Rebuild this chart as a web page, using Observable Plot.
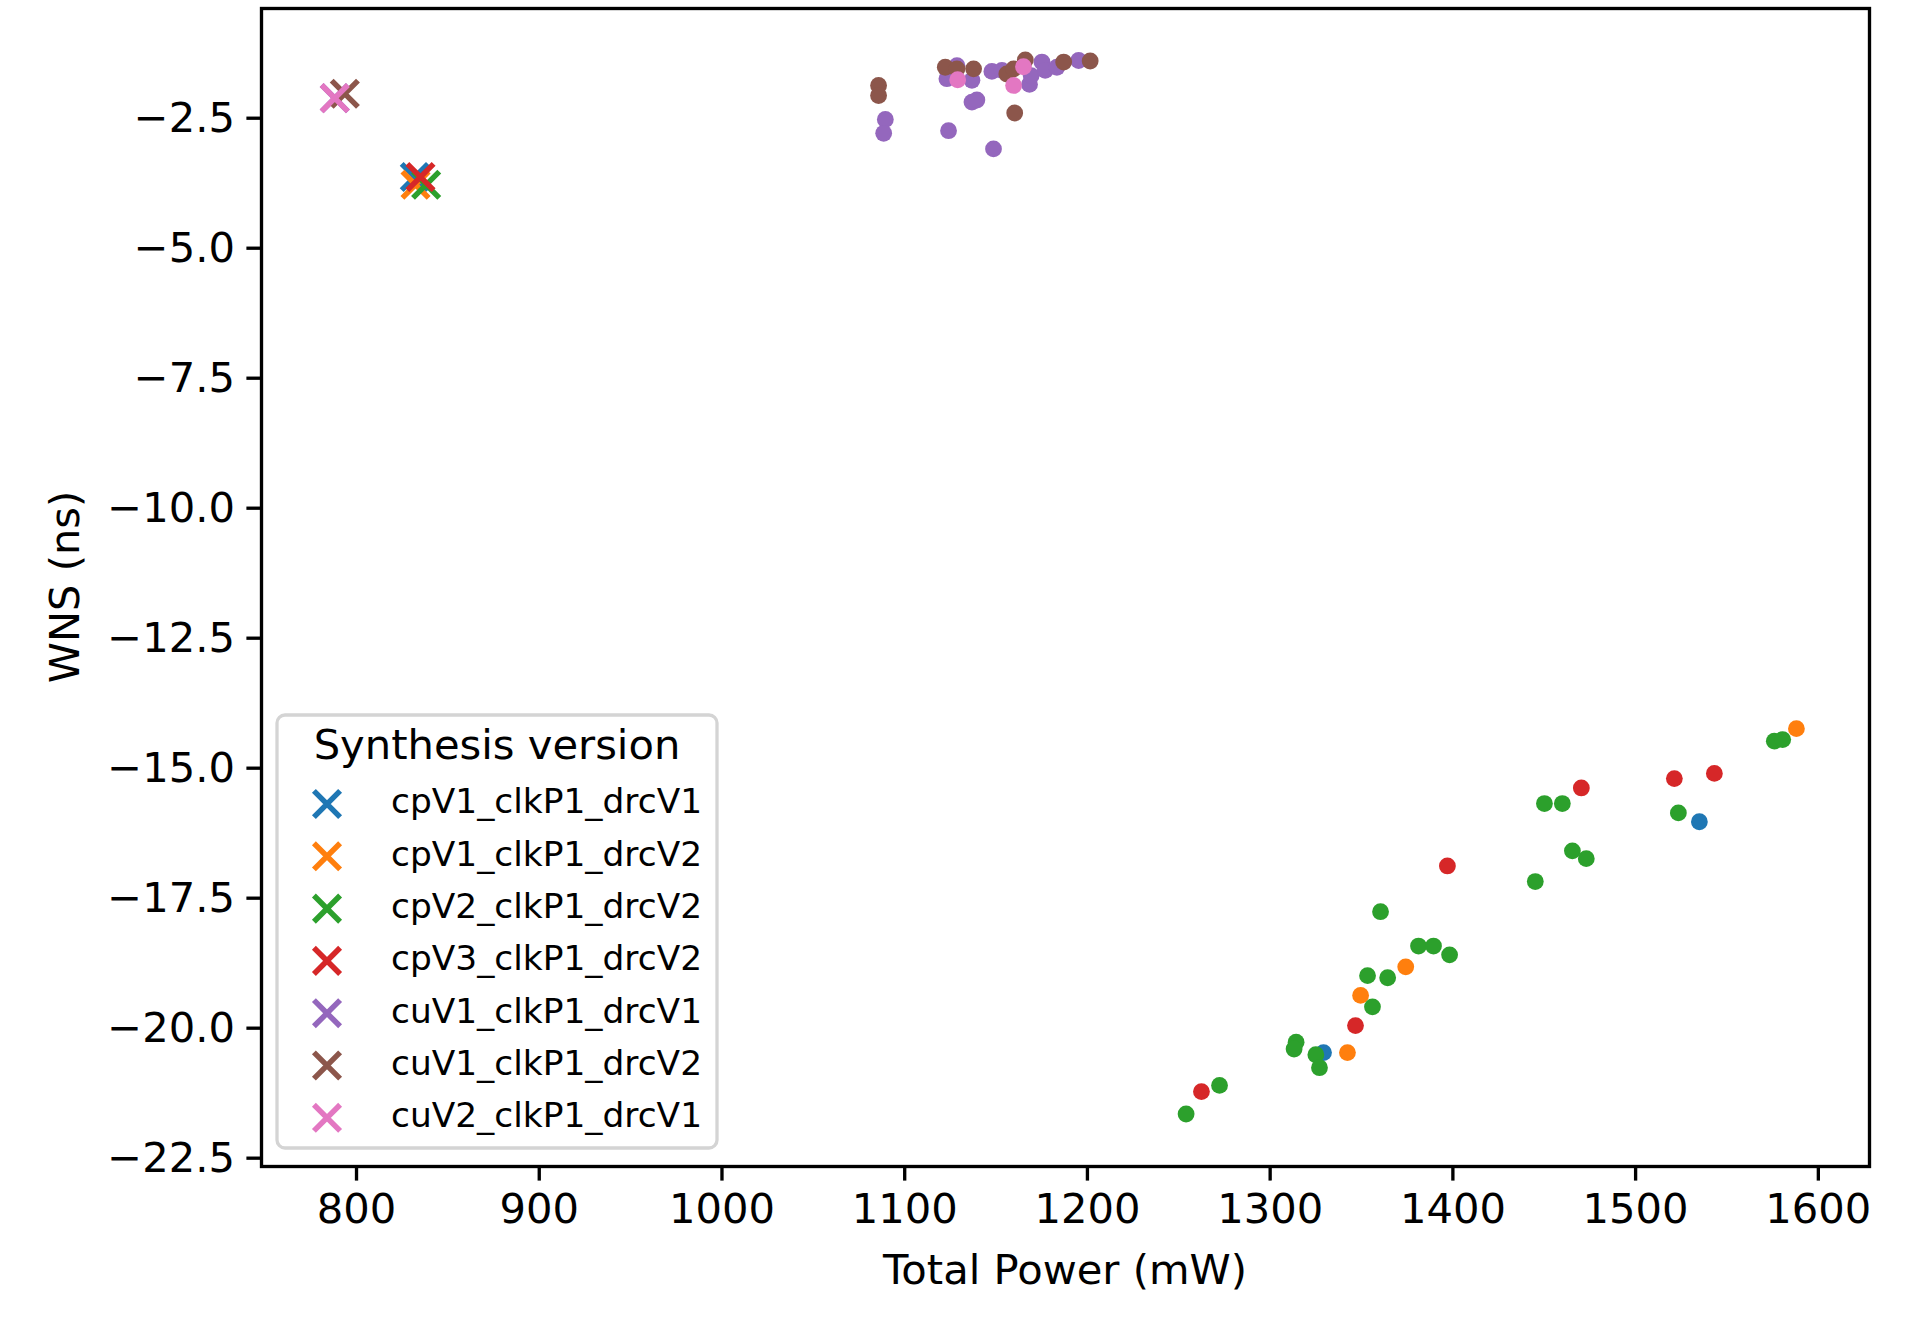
<!DOCTYPE html>
<html>
<head>
<meta charset="utf-8">
<script src="https://cdn.jsdelivr.net/npm/d3@7"></script>
<script src="https://cdn.jsdelivr.net/npm/@observablehq/plot@0.6"></script>
<style>
  html, body { margin: 0; padding: 0; background: white; }
  #chart { width: 1920px; height: 1341px; }
</style>
</head>
<body>
<div id="chart"></div>
<script>
// ---- Data ----
const versions = ["cpV1_clkP1_drcV1", "cpV1_clkP1_drcV2", "cpV2_clkP1_drcV2", "cpV3_clkP1_drcV2", "cuV1_clkP1_drcV1", "cuV1_clkP1_drcV2", "cuV2_clkP1_drcV1"];
const colors = ["#1f77b4", "#ff7f0e", "#2ca02c", "#d62728", "#9467bd", "#8c564b", "#e377c2"];

// baseline runs (x markers), one per version
const baselinePower = [831.9, 832.3, 838.1, 835.0, 788.1, 793.6, 788.1];
const baselineWNS   = [-3.63, -3.78, -3.78, -3.63, -2.115, -2.03, -2.115];

// explored runs (dots), per version
const cpV1_drcV1_power = [1329.2, 1534.9];
const cpV1_drcV1_wns   = [-20.47, -16.03];
const cpV1_drcV2_power = [1342.3, 1349.5, 1374.2, 1588.0];
const cpV1_drcV2_wns   = [-20.47, -19.37, -18.82, -14.24];
const cpV2_drcV2_power = [1254.0, 1272.3, 1314.2, 1313.1, 1325.0, 1327.0, 1356.0, 1353.3, 1364.3, 1360.4, 1381.2, 1389.4, 1398.2, 1445.1, 1465.4, 1473.0, 1450.1, 1459.9, 1523.4, 1575.9, 1580.5];
const cpV2_drcV2_wns   = [-21.65, -21.10, -20.27, -20.40, -20.51, -20.76, -19.59, -18.99, -19.03, -17.76, -18.42, -18.42, -18.59, -17.18, -16.59, -16.74, -15.68, -15.68, -15.86, -14.48, -14.45];
const cpV3_drcV2_power = [1262.4, 1346.7, 1397.0, 1470.3, 1521.2, 1543.1];
const cpV3_drcV2_wns   = [-21.22, -19.95, -16.88, -15.38, -15.20, -15.10];
const cuV1_drcV1_power = [1089.4, 1088.5, 1124.0, 1148.6, 1136.8, 1139.5, 1128.6, 1123.1, 1136.8, 1147.7, 1153.2, 1168.3, 1169.2, 1175.1, 1176.9, 1183.3, 1195.2];
const cuV1_drcV1_wns   = [-2.525, -2.79, -2.74, -3.09, -2.19, -2.15, -1.49, -1.74, -1.77, -1.60, -1.58, -1.85, -1.68, -1.42, -1.58, -1.52, -1.39];
const cuV1_drcV2_power = [1085.7, 1085.7, 1160.2, 1122.2, 1128.6, 1137.7, 1155.9, 1159.6, 1166.0, 1187.0, 1201.5];
const cuV1_drcV2_wns   = [-1.871, -2.063, -2.40, -1.52, -1.55, -1.55, -1.65, -1.55, -1.38, -1.42, -1.40];
const cuV2_drcV1_power = [1129.0, 1165.0, 1159.6];
const cuV2_drcV1_wns   = [-1.76, -1.51, -1.87];

const xTicks = [800, 900, 1000, 1100, 1200, 1300, 1400, 1500, 1600];
const yTicks = [-2.5, -5.0, -7.5, -10.0, -12.5, -15.0, -17.5, -20.0, -22.5];

// ---- Build tables ----
const dotPowers = [cpV1_drcV1_power, cpV1_drcV2_power, cpV2_drcV2_power, cpV3_drcV2_power, cuV1_drcV1_power, cuV1_drcV2_power, cuV2_drcV1_power];
const dotWNS    = [cpV1_drcV1_wns, cpV1_drcV2_wns, cpV2_drcV2_wns, cpV3_drcV2_wns, cuV1_drcV1_wns, cuV1_drcV2_wns, cuV2_drcV1_wns];
const dots = [];
versions.forEach((v, i) => dotPowers[i].forEach((p, j) => dots.push({version: v, power: p, wns: dotWNS[i][j]})));
const baselines = versions.map((v, i) => ({version: v, power: baselinePower[i], wns: baselineWNS[i]}));

const FS = 41.67;
const plot = Plot.plot({
  width: 1920,
  height: 1341,
  marginLeft: 261,
  marginRight: 51,
  marginTop: 8,
  marginBottom: 175,
  style: {fontFamily: "DejaVu Sans", fontSize: FS + "px", background: "white", color: "black"},
  x: {domain: [748, 1628], label: null},
  y: {domain: [-22.66, -0.39], label: null},
  color: {domain: versions, range: colors},
  marks: [
    Plot.axisX({ticks: xTicks, tickFormat: d => String(d), tickSize: 14.6, tickPadding: 12, strokeWidth: 3.33, fontSize: FS, label: null}),
    Plot.axisY({ticks: yTicks, tickFormat: d3.format(".1f"), tickSize: 14.6, tickPadding: 12, strokeWidth: 3.33, fontSize: FS, label: null}),
    Plot.dot(dots, {x: "power", y: "wns", fill: "version", r: 8.4}),
    Plot.dot(baselines, {x: "power", y: "wns", stroke: "version", symbol: "times", r: 12, strokeWidth: 5.5}),
    Plot.frame({stroke: "black", strokeWidth: 3.33})
  ]
});
document.getElementById("chart").appendChild(plot);

// ---- Axis titles and legend ----
const svg = d3.select(plot);
svg.append("text").attr("x", 1065).attr("y", 1284).attr("text-anchor", "middle")
  .attr("font-family", "DejaVu Sans").attr("font-size", FS).attr("fill", "black").text("Total Power (mW)");
svg.append("text").attr("transform", "translate(79,587) rotate(-90)").attr("text-anchor", "middle")
  .attr("font-family", "DejaVu Sans").attr("font-size", FS).attr("fill", "black").text("WNS (ns)");

const color = plot.scale("color");
const lg = svg.append("g");
lg.append("rect").attr("x", 277).attr("y", 715).attr("width", 440).attr("height", 433)
  .attr("rx", 8).attr("fill", "white").attr("fill-opacity", 0.8).attr("stroke", "#d4d4d4").attr("stroke-width", 3.3);
lg.append("text").attr("x", 497).attr("y", 759).attr("text-anchor", "middle")
  .attr("font-family", "DejaVu Sans").attr("font-size", FS).attr("fill", "black").text("Synthesis version");
versions.forEach((v, i) => {
  const cy = 804 + i * 52.3;
  const r = 13.1;
  lg.append("path").attr("d", `M${327 - r},${cy - r}L${327 + r},${cy + r}M${327 - r},${cy + r}L${327 + r},${cy - r}`)
    .attr("stroke", color.apply(v)).attr("stroke-width", 5.5).attr("fill", "none");
  lg.append("text").attr("x", 391).attr("y", cy + 9.3).attr("text-anchor", "start")
    .attr("font-family", "DejaVu Sans").attr("font-size", 34.4).attr("fill", "black").text(v);
});
</script>
</body>
</html>
